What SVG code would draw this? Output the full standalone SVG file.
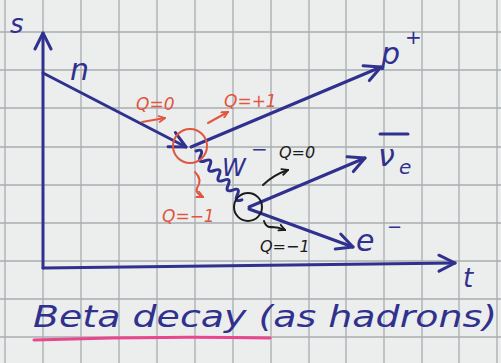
<svg xmlns="http://www.w3.org/2000/svg" width="501" height="363" viewBox="0 0 501 363">
<defs>
<style>
.grid{stroke:#a9adb1;stroke-width:1.3;fill:none}
.ink{stroke:#30318f;stroke-width:3;fill:none;stroke-linecap:round;stroke-linejoin:round}
.red{stroke:#e2553f;stroke-width:2;fill:none;stroke-linecap:round}
.blk{stroke:#1c1c1c;stroke-width:2;fill:none;stroke-linecap:round}
.tb{font-family:"DejaVu Sans","Liberation Sans",sans-serif;font-style:italic;fill:#30318f}
.tr{font-family:"DejaVu Sans","Liberation Sans",sans-serif;font-style:italic;fill:#e2553f;font-size:17px}
.tk{font-family:"DejaVu Sans","Liberation Sans",sans-serif;font-style:italic;fill:#1c1c1c;font-size:16px}
</style>
<marker id="ah" viewBox="0 0 12 12" refX="11" refY="6" markerWidth="12" markerHeight="12" markerUnits="userSpaceOnUse" orient="auto">
<path d="M1,1 L11,6 L1,11" fill="none" stroke="#30318f" stroke-width="2.6" stroke-linecap="round" stroke-linejoin="round"/>
</marker>
<marker id="ahb" viewBox="0 0 20 20" refX="18" refY="10" markerWidth="20" markerHeight="20" markerUnits="userSpaceOnUse" orient="auto">
<path d="M2,2 L18,10 L2,18" fill="none" stroke="#30318f" stroke-width="3" stroke-linecap="round" stroke-linejoin="round"/>
</marker>
<marker id="ahr" viewBox="0 0 8 8" refX="7" refY="4" markerWidth="8" markerHeight="8" markerUnits="userSpaceOnUse" orient="auto">
<path d="M1,1 L7,4 L1,7" fill="none" stroke="#e2553f" stroke-width="1.8" stroke-linecap="round"/>
</marker>
<marker id="ahk" viewBox="0 0 8 8" refX="7" refY="4" markerWidth="8" markerHeight="8" markerUnits="userSpaceOnUse" orient="auto">
<path d="M1,1 L7,4 L1,7" fill="none" stroke="#1c1c1c" stroke-width="1.8" stroke-linecap="round"/>
</marker>
</defs>
<rect width="501" height="363" fill="#eceeed"/>
<g id="grid" class="grid">
<path d="M5,0V363M43,0V363M81,0V363M119,0V363M157,0V363M195,0V363M233,0V363M271,0V363M309,0V363M346,0V363M384,0V363M422,0V363M459,0V363M497,0V363"/>
<path d="M0,32H501M0,70H501M0,108H501M0,147H501M0,185H501M0,223H501M0,261H501M0,299H501M0,337H501"/>
</g>
<g id="axes">
<path class="ink" d="M43,268 L43,33" marker-end="url(#ahb)"/>
<path class="ink" d="M43,268 L455,263" marker-end="url(#ahb)"/>
<text class="tb" x="10" y="33" font-size="26">s</text>
<text class="tb" x="463" y="287" font-size="26">t</text>
</g>
<g id="connectors">
<path id="n-line" class="ink" d="M43,73 L186,147" marker-end="url(#ahb)"/>
<path id="p-line" class="ink" d="M191,147 L381,67" marker-end="url(#ahb)"/>
<path id="w-line" class="ink" stroke-width="2.2" d="M196,151 q8.12,-3.04 4.59,4.88 q-3.54,7.92 4.59,4.88 q8.12,-3.04 4.59,4.88 q-3.54,7.92 4.59,4.88 q8.12,-3.04 4.59,4.88 q-3.54,7.92 4.59,4.88 q8.12,-3.04 4.59,4.88 q-3.54,7.92 4.59,4.88 q8.12,-3.04 4.59,4.88 q-3.54,7.92 4.59,4.88"/>
<path id="nu-line" class="ink" d="M249,207 L365,158" marker-end="url(#ahb)"/>
<path id="e-line" class="ink" d="M249,209 L353,247" marker-end="url(#ahb)"/>
</g>
<g id="n">
<text class="tb" x="70" y="80" font-size="30">n</text>
</g>
<g id="vertex1">
<circle cx="190" cy="146" r="17" class="red"/>
</g>
<g id="vertex2">
<circle cx="248" cy="207" r="14" class="blk"/>
</g>
<g id="p">
<text class="tb" x="381" y="64" font-size="30">p</text>
<text class="tb" x="405" y="44" font-size="20">+</text>
</g>
<g id="W">
<text class="tb" x="222" y="176" font-size="24">W</text>
<text class="tb" x="251" y="156" font-size="20">−</text>
</g>
<g id="nu">
<line x1="380" y1="134" x2="408" y2="134" stroke="#30318f" stroke-width="3" stroke-linecap="round"/>
<text class="tb" x="378" y="166" font-size="30">ν</text>
<text class="tb" x="399" y="174" font-size="20">e</text>
</g>
<g id="e">
<text class="tb" x="356" y="251" font-size="30">e</text>
<text class="tb" x="387" y="233" font-size="18">−</text>
</g>
<g id="charges">
<text class="tr" x="136" y="110">Q=0</text>
<path class="red" d="M142,122 L165,118" marker-end="url(#ahr)"/>
<text class="tr" x="224" y="107">Q=+1</text>
<path class="red" d="M208,123 L228,112" marker-end="url(#ahr)"/>
<text class="tr" x="162" y="222" font-size="20">Q=−1</text>
<path class="red" d="M195,172 q8,8 2,16 q-2,5 6,9" marker-end="url(#ahr)"/>
<text class="tk" x="279" y="158">Q=0</text>
<path class="blk" d="M263,185 q10,-10 25,-15" marker-end="url(#ahk)"/>
<text class="tk" x="260" y="252">Q=−1</text>
<path class="blk" d="M264,221 q2,7 8,6 q6,0 13,3" marker-end="url(#ahk)"/>
</g>
<g id="title">
<text class="tb" x="33" y="327" font-size="31" textLength="464" lengthAdjust="spacingAndGlyphs">Beta decay (as hadrons)</text>
<path d="M34,340 Q150,336 270,338" stroke="#e9468e" stroke-width="3" fill="none" stroke-linecap="round"/>
</g>
</svg>
